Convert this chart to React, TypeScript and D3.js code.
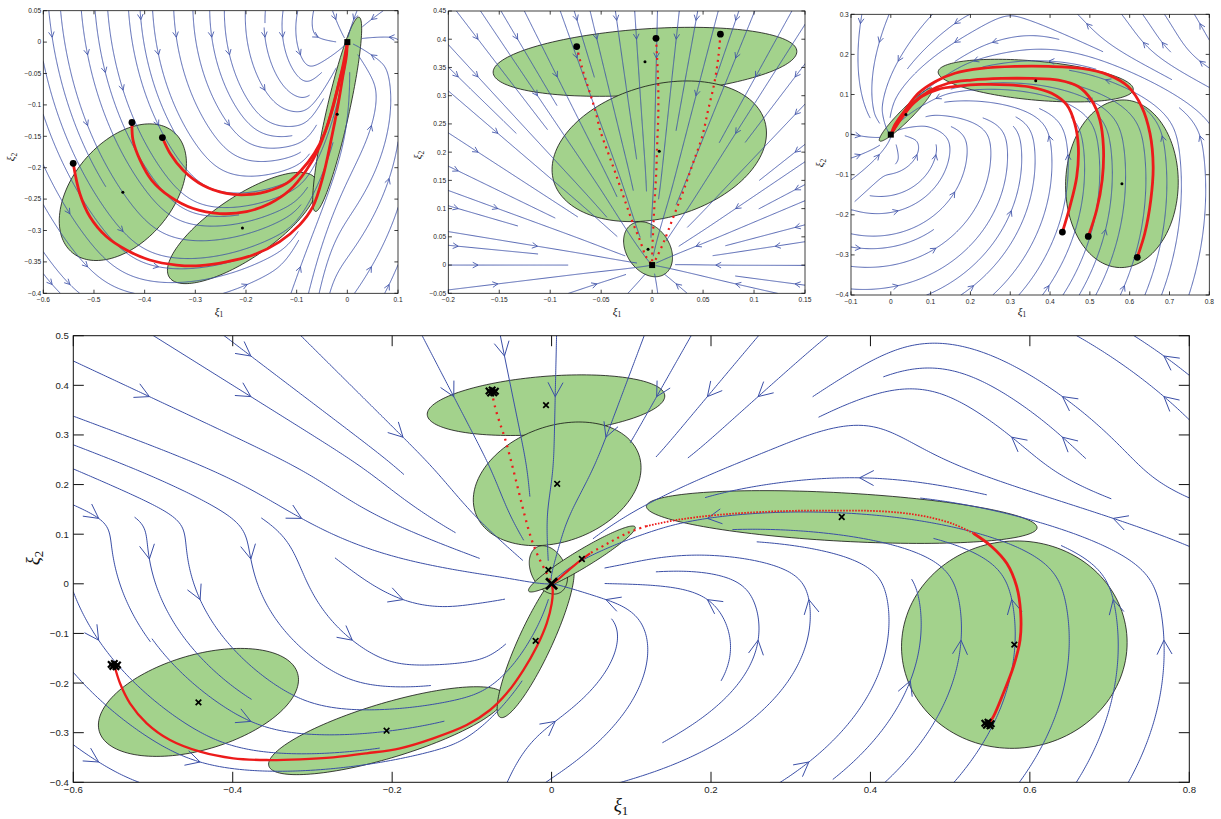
import React, { useMemo } from "react";
import * as d3 from "d3";

// ---------------- DATA ----------------
// Gaussian components: centre [ξ1, ξ2], spread [sd ξ1, sd ξ2, correlation], flow heading at centre (deg)
const tlMeans = [[-0.443, -0.239], [-0.207, -0.296], [-0.02, -0.115]];
const tlSpreads = [[0.1255, 0.1088, 0.42], [0.148, 0.0886, 0.76], [0.0483, 0.1547, 0.88]];
const tlHeadings = [-50, 12, 75];

const tmMeans = [[-0.007, 0.36], [0.007, 0.2015], [-0.004, 0.028]];
const tmSpreads = [[0.149, 0.0611, 0.3], [0.1052, 0.1246, 0.26], [0.024, 0.0487, -0.3]];
const tmHeadings = [-89, -92, -84];

const trMeans = [[0.364, 0.1346], [0.5805, -0.1226], [0.038, 0.05]];
const trSpreads = [[0.245, 0.0532, -0.4], [0.1415, 0.209, 0.02], [0.067, 0.0665, 0.95]];
const trHeadings = [177, 88, 221];

// Demonstrations (top panels)
const tlDemoA = [[-0.541, -0.193], [-0.528, -0.241], [-0.508, -0.278], [-0.475, -0.31], [-0.436, -0.331], [-0.39, -0.347], [-0.337, -0.355], [-0.291, -0.356], [-0.239, -0.35], [-0.186, -0.339], [-0.134, -0.318], [-0.094, -0.291], [-0.068, -0.262], [-0.048, -0.214], [-0.032, -0.156], [-0.019, -0.103], [-0.009, -0.055], [-0.002, -0.023], [0, 0]];
const tlDemoB = [[-0.425, -0.128], [-0.423, -0.156], [-0.409, -0.188], [-0.386, -0.22], [-0.35, -0.246], [-0.304, -0.265], [-0.252, -0.273], [-0.199, -0.27], [-0.153, -0.257], [-0.114, -0.236], [-0.081, -0.204], [-0.058, -0.172], [-0.038, -0.129], [-0.022, -0.082], [-0.009, -0.039], [0, 0]];
const tlDemoC = [[-0.365, -0.152], [-0.35, -0.177], [-0.324, -0.204], [-0.285, -0.228], [-0.239, -0.241], [-0.199, -0.243], [-0.16, -0.238], [-0.12, -0.225], [-0.091, -0.204], [-0.065, -0.177], [-0.045, -0.145], [-0.028, -0.103], [-0.015, -0.06], [-0.005, -0.029], [0, 0]];

const tmDemoA = [[-0.074, 0.387], [-0.069, 0.351], [-0.063, 0.316], [-0.056, 0.275], [-0.05, 0.233], [-0.043, 0.198], [-0.036, 0.163], [-0.028, 0.121], [-0.02, 0.08], [-0.012, 0.044], [-0.006, 0.015], [0, 0]];
const tmDemoB = [[0.0038, 0.4016], [0.005, 0.363], [0.006, 0.316], [0.006, 0.263], [0.005, 0.216], [0.004, 0.163], [0.0025, 0.115], [0.0012, 0.068], [0.0002, 0.027], [0, 0]];
const tmDemoC = [[0.067, 0.409], [0.065, 0.369], [0.061, 0.322], [0.055, 0.275], [0.049, 0.227], [0.04, 0.18], [0.031, 0.133], [0.021, 0.086], [0.011, 0.039], [0.004, 0.012], [0, 0]];

const trDemoA = [[0.431, -0.243], [0.45, -0.179], [0.467, -0.105], [0.471, -0.03], [0.462, 0.028], [0.442, 0.074], [0.404, 0.103], [0.354, 0.118], [0.295, 0.124], [0.228, 0.125], [0.17, 0.121], [0.119, 0.113], [0.077, 0.095], [0.044, 0.066], [0.019, 0.032], [0, 0]];
const trDemoB = [[0.496, -0.254], [0.517, -0.188], [0.531, -0.113], [0.534, -0.03], [0.525, 0.037], [0.504, 0.086], [0.471, 0.12], [0.421, 0.136], [0.354, 0.14], [0.278, 0.14], [0.203, 0.136], [0.144, 0.128], [0.094, 0.107], [0.057, 0.078], [0.027, 0.041], [0, 0]];
const trDemoC = [[0.619, -0.306], [0.638, -0.246], [0.653, -0.163], [0.659, -0.08], [0.651, 0.003], [0.63, 0.07], [0.596, 0.12], [0.546, 0.149], [0.479, 0.165], [0.396, 0.17], [0.312, 0.17], [0.228, 0.165], [0.161, 0.153], [0.111, 0.132], [0.069, 0.103], [0.036, 0.061], [0.01, 0.024], [0, 0]];

// Reproductions (bottom panel)
const btPathLeft = [[-0.5486, -0.1637], [-0.5414, -0.2005], [-0.5289, -0.2408], [-0.5079, -0.2811], [-0.4787, -0.3148], [-0.441, -0.3383], [-0.3993, -0.3517], [-0.3574, -0.3551], [-0.3156, -0.3537], [-0.2738, -0.3497], [-0.232, -0.3416], [-0.1901, -0.3315], [-0.1484, -0.3114], [-0.1065, -0.2846], [-0.0772, -0.2543], [-0.0563, -0.2207], [-0.0354, -0.1737], [-0.0187, -0.1267], [-0.0061, -0.0796], [0.0002, -0.0393], [0.0014, -0.0125], [0, 0]];
const btPathTop = [[-0.0751, 0.3871], [-0.071, 0.3569], [-0.0648, 0.3234], [-0.0585, 0.2932], [-0.0501, 0.2428], [-0.0417, 0.189], [-0.0333, 0.1352], [-0.0249, 0.0883], [-0.0166, 0.0546], [-0.0061, 0.021], [0, 0]];
const btPathRight = [[0.548, -0.2826], [0.5542, -0.2678], [0.5667, -0.2207], [0.5793, -0.1671], [0.5877, -0.1133], [0.5885, -0.0595], [0.5835, -0.0058], [0.571, 0.0413], [0.5522, 0.0748], [0.5291, 0.1018], [0.504, 0.1205], [0.4706, 0.1352], [0.4371, 0.1433], [0.3953, 0.1473], [0.3535, 0.1473], [0.3117, 0.1473], [0.2699, 0.1453], [0.2072, 0.1387], [0.157, 0.1286], [0.1194, 0.1165], [0.0943, 0.1018], [0.0692, 0.0802], [0.0483, 0.0615], [0.0315, 0.0413], [0.0169, 0.0212], [0.0064, 0.0063], [0, 0]];

const btStartsLeft = [[-0.5525, -0.1625], [-0.5485, -0.1605], [-0.5445, -0.1635], [-0.5505, -0.1665], [-0.5465, -0.167]];
const btStartsTop = [[-0.0785, 0.3885], [-0.0745, 0.3905], [-0.0705, 0.388], [-0.0765, 0.3845], [-0.0725, 0.385]];
const btStartsRight = [[0.5435, -0.281], [0.5475, -0.279], [0.5515, -0.282], [0.5455, -0.285], [0.55, -0.286]];

// Tick values
const tlXTicks = [-0.6, -0.5, -0.4, -0.3, -0.2, -0.1, 0, 0.1];
const tlYTicks = [-0.4, -0.35, -0.3, -0.25, -0.2, -0.15, -0.1, -0.05, 0, 0.05];
const tmXTicks = [-0.2, -0.15, -0.1, -0.05, 0, 0.05, 0.1, 0.15];
const tmYTicks = [-0.05, 0, 0.05, 0.1, 0.15, 0.2, 0.25, 0.3, 0.35, 0.4, 0.45];
const trXTicks = [-0.1, 0, 0.1, 0.2, 0.3, 0.4, 0.5, 0.6, 0.7, 0.8];
const trYTicks = [-0.4, -0.3, -0.2, -0.1, 0, 0.1, 0.2, 0.3];
const btXTicks = [-0.6, -0.4, -0.2, 0, 0.2, 0.4, 0.6, 0.8];
const btYTicks = [-0.4, -0.3, -0.2, -0.1, 0, 0.1, 0.2, 0.3, 0.4, 0.5];

// ---------------- STYLE ----------------
const FONT = "'Liberation Sans', Arial, Helvetica, sans-serif";
const SERIF = "'Liberation Serif', 'DejaVu Serif', serif";
const BLUE = "#3a4ea6";
const GREEN = "#a3d28c";
const RED = "#ec1b1b";

// ---------------- MODEL ----------------
function buildComps(means, spreads, headings) {
  return means.map((m, k) => {
    const [sx, sy, r] = spreads[k];
    const sxx = sx * sx, syy = sy * sy, sxy = r * sx * sy;
    const det = sxx * syy - sxy * sxy;
    const toOrigin = Math.atan2(-m[1], -m[0]);
    let phi = (headings[k] * Math.PI) / 180 - toOrigin;
    phi = Math.atan2(Math.sin(phi), Math.cos(phi));
    const c = Math.cos(phi), s = Math.sin(phi);
    return {
      mx: m[0], my: m[1],
      ia: syy / det, ib: -sxy / det, ic: sxx / det,
      logNorm: -0.5 * Math.log(det),
      a11: -c, a12: s, a21: -s, a22: -c,
    };
  });
}

function makeField(comps) {
  const n = comps.length;
  const ls = new Array(n);
  return (x, y) => {
    let mx = -Infinity;
    for (let k = 0; k < n; k++) {
      const c = comps[k];
      const dx = x - c.mx, dy = y - c.my;
      const l = c.logNorm - 0.5 * (c.ia * dx * dx + 2 * c.ib * dx * dy + c.ic * dy * dy);
      ls[k] = l;
      if (l > mx) mx = l;
    }
    let sw = 0, vx = 0, vy = 0;
    for (let k = 0; k < n; k++) {
      const c = comps[k];
      const w = Math.exp(ls[k] - mx);
      sw += w;
      vx += w * (c.a11 * x + c.a12 * y);
      vy += w * (c.a21 * x + c.a22 * y);
    }
    return [vx / sw, vy / sw];
  };
}

// streamslice-like: coarse start grid, finer stop grid
function streamlines(p, field) {
  const [left, right, top, bottom] = p.box;
  const W = right - left, H = bottom - top;
  const sx = p.grid[0], sy = p.grid[1];
  const F = 2;
  const nx = sx * F, ny = sy * F;
  const cw = W / nx, ch = H / ny;
  const kx = W / (p.xDomain[1] - p.xDomain[0]);
  const ky = H / (p.yDomain[1] - p.yDomain[0]);
  const occ = new Int32Array(nx * ny).fill(-1);
  const startOcc = new Uint8Array(sx * sy);
  const ox = ((0 - p.xDomain[0]) * kx) / cw;
  const oy = ((p.yDomain[1] - 0) * ky) / ch;
  const toData = (u, v) => [p.xDomain[0] + (u * cw) / kx, p.yDomain[1] - (v * ch) / ky];
  const dir = (u, v) => {
    const [X, Y] = toData(u, v);
    const f = field(X, Y);
    const gu = (f[0] * kx) / cw, gv = (-f[1] * ky) / ch;
    const nn = Math.hypot(gu, gv);
    if (!(nn > 1e-14)) return null;
    return [gu / nn, gv / nn];
  };
  const cellOf = (u, v) => Math.floor(v) * nx + Math.floor(u);
  const markStart = (u, v) => {
    const i = Math.floor(u / F), j = Math.floor(v / F);
    if (i >= 0 && i < sx && j >= 0 && j < sy) startOcc[j * sx + i] = 1;
  };
  const h = 0.1;
  const trace = (u0, v0, sgn, id) => {
    const pts = [];
    let u = u0, v = v0, cur = cellOf(u, v);
    for (let i = 0; i < 4000; i++) {
      const d1 = dir(u, v);
      if (!d1) break;
      const d2 = dir(u + sgn * d1[0] * h * 0.5, v + sgn * d1[1] * h * 0.5);
      if (!d2) break;
      u += sgn * d2[0] * h;
      v += sgn * d2[1] * h;
      if (u < 0 || u >= nx || v < 0 || v >= ny) { pts.push([u, v]); break; }
      if (Math.hypot((u - ox) * cw, (v - oy) * ch) < 1.2) { pts.push([ox, oy]); break; }
      const c = cellOf(u, v);
      if (c !== cur) {
        if (occ[c] !== -1) { pts.push([u, v]); break; }
        occ[c] = id; cur = c;
        markStart(u, v);
      }
      pts.push([u, v]);
    }
    return pts;
  };
  const order = [];
  const seen = new Uint8Array(sx * sy);
  for (const s of [8, 4, 2, 1]) {
    for (let j = Math.floor(s / 2); j < sy; j += s)
      for (let i = Math.floor(s / 2); i < sx; i += s) {
        const c = j * sx + i;
        if (!seen[c]) { seen[c] = 1; order.push([i, j]); }
      }
  }
  const lines = [];
  const arrows = [];
  const toPx = (q) => [left + q[0] * cw, top + q[1] * ch];
  let id = 0;
  for (const [i, j] of order) {
    if (startOcc[j * sx + i]) continue;
    const u0 = (i + 0.5) * F, v0 = (j + 0.5) * F;
    const c = cellOf(u0, v0);
    if (occ[c] !== -1) continue;
    occ[c] = id;
    startOcc[j * sx + i] = 1;
    const back = trace(u0, v0, -1, id);
    const fwd = trace(u0, v0, 1, id);
    const pts = back.reverse().concat([[u0, v0]], fwd).map(toPx);
    let len = 0;
    for (let k = 1; k < pts.length; k++) len += Math.hypot(pts[k][0] - pts[k - 1][0], pts[k][1] - pts[k - 1][1]);
    if (len > Math.min(cw, ch) * 1.2) lines.push(pts);
    if (len > Math.min(cw, ch) * 3) {
      const d = dir(u0, v0);
      if (d) {
        let ax = d[0] * cw, ay = d[1] * ch;
        const nn = Math.hypot(ax, ay);
        ax /= nn; ay /= nn;
        const [tx, ty] = toPx([u0, v0]);
        const L = p.arrow, a = (28 * Math.PI) / 180;
        const r1 = [ax * Math.cos(a) - ay * Math.sin(a), ax * Math.sin(a) + ay * Math.cos(a)];
        const r2 = [ax * Math.cos(-a) - ay * Math.sin(-a), ax * Math.sin(-a) + ay * Math.cos(-a)];
        arrows.push(`M${tx - L * r1[0]},${ty - L * r1[1]}L${tx},${ty}L${tx - L * r2[0]},${ty - L * r2[1]}`);
      }
    }
    id++;
  }
  return { lines, arrows };
}

const fmt = (v) => {
  const s = Math.abs(v) < 1e-9 ? "0" : String(parseFloat(v.toFixed(3)));
  return s.replace("-", "\u2212");
};

// ---------------- PANELS ----------------
const panelSpecs = [
  {
    key: "tl", box: [43.3, 398, 10.7, 293.3], xDomain: [-0.6, 0.1], yDomain: [-0.4, 0.05],
    xTicks: tlXTicks, yTicks: tlYTicks, sets: [[tlMeans, tlSpreads, tlHeadings]], grid: [20, 16],
    small: true, xLabel: [219, 315], yLabel: [11, 157], arrow: 6,
    reds: [{ pts: tlDemoA, w: 2.8 }, { pts: tlDemoB, w: 2.8 }, { pts: tlDemoC, w: 2.8 }],
  },
  {
    key: "tm", box: [448.3, 805, 11, 293.3], xDomain: [-0.2, 0.15], yDomain: [-0.05, 0.45],
    xTicks: tmXTicks, yTicks: tmYTicks, sets: [[tmMeans, tmSpreads, tmHeadings]], grid: [18, 15],
    small: true, xLabel: [617, 315], yLabel: [418, 155], arrow: 6,
    reds: [{ pts: tmDemoA, w: 2.2, dash: "2 4.5" }, { pts: tmDemoB, w: 2.2, dash: "2 4.5" }, { pts: tmDemoC, w: 2.2, dash: "2 4.5" }],
  },
  {
    key: "tr", box: [851, 1209.3, 14.3, 295], xDomain: [-0.1, 0.8], yDomain: [-0.4, 0.3],
    xTicks: trXTicks, yTicks: trYTicks, sets: [[trMeans, trSpreads, trHeadings]], grid: [19, 15],
    small: true, xLabel: [1022, 315], yLabel: [820, 163], arrow: 6,
    reds: [{ pts: trDemoA, w: 2.8 }, { pts: trDemoB, w: 2.8 }, { pts: trDemoC, w: 2.8 }],
  },
  {
    key: "bt", box: [73.3, 1189.3, 335.7, 782.3], xDomain: [-0.6, 0.8], yDomain: [-0.4, 0.5],
    xTicks: btXTicks, yTicks: btYTicks,
    sets: [[tlMeans, tlSpreads, tlHeadings], [tmMeans, tmSpreads, tmHeadings], [trMeans, trSpreads, trHeadings]],
    grid: [22, 11], small: false, xLabel: [621, 811], yLabel: [33, 558], arrow: 16,
    reds: [
      { pts: btPathLeft, w: 2.3 },
      { pts: btPathTop, w: 2.3, dash: "2 5" },
      { pts: btPathRight.slice(0, 10), w: 2.8 },
      { pts: btPathRight.slice(9, 20), w: 1.8, dash: "1.6 1.4" },
      { pts: btPathRight.slice(19, 23), w: 2.2, dash: "2 4" },
      { pts: btPathRight.slice(22), w: 2.2 },
    ],
    starts: [btStartsLeft, btStartsTop, btStartsRight],
  },
];

function Cross({ x, y, r, w }) {
  return (
    <path d={`M${x - r},${y - r}L${x + r},${y + r}M${x - r},${y + r}L${x + r},${y - r}`} stroke="#000" strokeWidth={w} fill="none" />
  );
}

function Panel({ p }) {
  const [left, right, top, bottom] = p.box;
  const xs = d3.scaleLinear().domain(p.xDomain).range([left, right]);
  const ys = d3.scaleLinear().domain(p.yDomain).range([bottom, top]);
  const means = p.sets.flatMap((s) => s[0]);
  const spreads = p.sets.flatMap((s) => s[1]);
  const headings = p.sets.flatMap((s) => s[2]);
  const { lines, arrows } = useMemo(() => {
    const comps = buildComps(means, spreads, headings);
    return streamlines(p, makeField(comps));
  }, [p.key]);

  const ellipse = (m, s) => {
    const [sx, sy, r] = s;
    const pts = d3.range(0, 2 * Math.PI, Math.PI / 72).map((t) => {
      const a = Math.cos(t), b = Math.sin(t);
      return [xs(m[0] + sx * a), ys(m[1] + r * sy * a + sy * Math.sqrt(1 - r * r) * b)];
    });
    return d3.line().curve(d3.curveLinearClosed)(pts);
  };
  const lineGen = d3.line().x((d) => xs(d[0])).y((d) => ys(d[1])).curve(d3.curveCatmullRom.alpha(0.5));
  const pxLine = d3.line();
  const fs = p.small ? 6.6 : 9.6;
  const tl = p.small ? 3.6 : 10.5;
  const lw = p.small ? 0.8 : 1;
  const clipId = `clip-${p.key}`;
  const labelSize = p.small ? 11 : 19;

  return (
    <g>
      <defs>
        <clipPath id={clipId}>
          <rect x={left} y={top} width={right - left} height={bottom - top} />
        </clipPath>
      </defs>
      <rect x={left} y={top} width={right - left} height={bottom - top} fill="#fff" />
      <g clipPath={`url(#${clipId})`}>
        {means.map((m, k) => (
          <path key={k} d={ellipse(m, spreads[k])} fill={GREEN} stroke="#111" strokeWidth={0.8} />
        ))}
        <g fill="none" stroke={BLUE} strokeWidth={p.small ? 0.85 : 1}>
          {lines.map((l, k) => (
            <path key={k} d={pxLine(l)} />
          ))}
          {arrows.map((a, k) => (
            <path key={"a" + k} d={a} />
          ))}
        </g>
        {p.reds.map((r, k) => (
          <path key={k} d={lineGen(r.pts)} fill="none" stroke={RED} strokeWidth={r.w} strokeDasharray={r.dash} />
        ))}
        {p.small ? (
          <g>
            {means.map((m, k) => (
              <circle key={k} cx={xs(m[0])} cy={ys(m[1])} r={1.5} fill="#000" />
            ))}
            {p.reds.map((r, k) => (
              <circle key={"s" + k} cx={xs(r.pts[0][0])} cy={ys(r.pts[0][1])} r={3.4} fill="#000" />
            ))}
            <rect x={xs(0) - 3} y={ys(0) - 3} width={6} height={6} fill="#000" />
          </g>
        ) : (
          <g>
            {means.map((m, k) => (
              <Cross key={k} x={xs(m[0])} y={ys(m[1])} r={2.8} w={1.7} />
            ))}
            {p.starts.flat().map((s, k) => (
              <Cross key={"st" + k} x={xs(s[0])} y={ys(s[1])} r={3.2} w={2.2} />
            ))}
            <Cross x={xs(0)} y={ys(0)} r={5.5} w={2.8} />
          </g>
        )}
      </g>
      {/* axes */}
      <rect x={left} y={top} width={right - left} height={bottom - top} fill="none" stroke="#111" strokeWidth={lw} />
      <g stroke="#111" strokeWidth={lw}>
        {p.xTicks.map((t, k) => (
          <path key={k} d={`M${xs(t)},${bottom}V${bottom - tl}M${xs(t)},${top}V${top + tl}`} />
        ))}
        {p.yTicks.map((t, k) => (
          <path key={"y" + k} d={`M${left},${ys(t)}H${left + tl}M${right},${ys(t)}H${right - tl}`} />
        ))}
      </g>
      <g fontFamily={FONT} fontSize={fs} fill="#222">
        {p.xTicks.map((t, k) => (
          <text key={k} x={xs(t)} y={bottom + (p.small ? 8.7 : 10.6)} textAnchor="middle">
            {fmt(t)}
          </text>
        ))}
        {p.yTicks.map((t, k) => (
          <text key={"y" + k} x={left - (p.small ? 2.2 : 4.5)} y={ys(t) + fs * 0.36} textAnchor="end">
            {fmt(t)}
          </text>
        ))}
      </g>
      <text x={p.xLabel[0]} y={p.xLabel[1]} fontFamily={SERIF} fontStyle="italic" fontSize={labelSize} textAnchor="middle" fill="#111">
        ξ<tspan fontSize={labelSize * 0.68} fontStyle="normal" dy={labelSize * 0.22}>1</tspan>
      </text>
      <text
        transform={`translate(${p.yLabel[0]},${p.yLabel[1]}) rotate(-90)`}
        fontFamily={SERIF} fontStyle="italic" fontSize={labelSize} textAnchor="middle" fill="#111" dy={labelSize * 0.3}
      >
        ξ<tspan fontSize={labelSize * 0.68} fontStyle="normal" dy={labelSize * 0.22}>2</tspan>
      </text>
    </g>
  );
}

export default function App() {
  return (
    <svg width={1221} height={819} viewBox="0 0 1221 819" style={{ position: "absolute", left: 0, top: 0, background: "#fff" }}>
      <rect x={0} y={0} width={1221} height={819} fill="#fff" />
      {panelSpecs.map((p) => (
        <Panel key={p.key} p={p} />
      ))}
    </svg>
  );
}
